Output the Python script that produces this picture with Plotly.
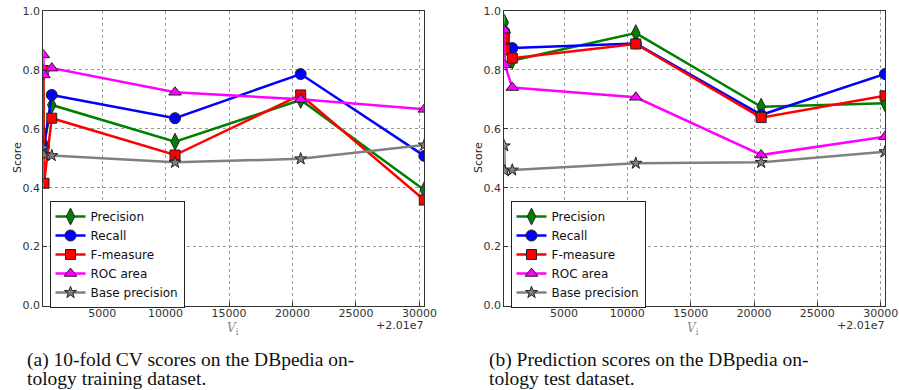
import plotly.graph_objects as go

# ---- data (x relative to offset 2.01e7) ----
x_offset_label = "+2.01e7"
x_train = [364, 420, 1030, 10744, 20644, 30384]
x_test = [285, 330, 917, 10666, 20564, 30340]

series_names = ["Precision", "Recall", "F-measure", "ROC area", "Base precision"]

train_precision = [0.79, 0.55, 0.681, 0.556, 0.698, 0.392]
train_recall = [0.52, 0.539, 0.715, 0.636, 0.786, 0.508]
train_fmeasure = [0.798, 0.415, 0.636, 0.511, 0.715, 0.358]
train_roc = [0.851, 0.783, 0.806, 0.724, 0.700, 0.666]
train_base = [0.535, 0.512, 0.509, 0.486, 0.498, 0.545]

test_precision = [0.961, 0.87, 0.832, 0.925, 0.675, 0.687]
test_recall = [0.930, 0.88, 0.874, 0.89, 0.647, 0.786]
test_fmeasure = [0.908, 0.87, 0.840, 0.888, 0.638, 0.712]
test_roc = [0.935, 0.817, 0.740, 0.707, 0.511, 0.573]
test_base = [0.542, 0.457, 0.460, 0.483, 0.486, 0.522]

x_ticks = [5000, 10000, 15000, 20000, 25000, 30000]
x_ticktext = ["5000", "10000", "15000", "20000", "25000", "30000"]
y_ticks = [0.0, 0.2, 0.4, 0.6, 0.8, 1.0]

captions = [
    ["(a) 10-fold CV scores on the DBpedia on-", "tology training dataset."],
    ["(b) Prediction scores on the DBpedia on-", "tology test dataset."],
]

styles = [
    dict(color="#008000", symbol="diamond-tall", size=12),
    dict(color="#0000ff", symbol="circle", size=11),
    dict(color="#ff0000", symbol="square", size=10),
    dict(color="#ff00ff", symbol="triangle-up", size=11),
    dict(color="#808080", symbol="star", size=9),
]

fig = go.Figure()

panels = [
    (x_train, [train_precision, train_recall, train_fmeasure, train_roc, train_base], "x", "y", "legend"),
    (x_test, [test_precision, test_recall, test_fmeasure, test_roc, test_base], "x2", "y2", "legend2"),
]

for xs, ys_list, xa, ya, lg in panels:
    for name, ys, st in zip(series_names, ys_list, styles):
        fig.add_trace(go.Scatter(
            x=xs, y=ys, name=name, mode="lines+markers",
            line=dict(color=st["color"], width=2.5),
            marker=dict(symbol=st["symbol"], size=st["size"], color=st["color"],
                        line=dict(color="#222222", width=1)),
            xaxis=xa, yaxis=ya, legend=lg,
        ))

W, H = 899, 390
def px(v):
    return v / W
def py(v):
    return (H - v) / H

dom_y = [py(305.5), py(11)]
axis_common = dict(
    showline=True, linecolor="#333333", linewidth=1, mirror=True,
    ticks="inside", ticklen=4, tickcolor="#333333",
    showgrid=True, gridcolor="#9a9a9a", griddash="dot", gridwidth=1,
    zeroline=False, automargin=False,
    tickfont=dict(family="DejaVu Sans", size=11, color="#333333"),
)

legend_common = dict(xanchor="left", yanchor="top",
                     bordercolor="#222222", borderwidth=1, bgcolor="white",
                     font=dict(family="DejaVu Sans", size=12, color="#111111"),
                     tracegroupgap=0, itemwidth=30)

fig.update_layout(
    width=W, height=H, margin=dict(l=0, r=0, t=0, b=0, autoexpand=False),
    paper_bgcolor="white", plot_bgcolor="white",
    xaxis=dict(domain=[px(43.3), px(424.3)], range=[min(x_train), max(x_train)],
               tickvals=x_ticks, ticktext=x_ticktext, anchor="y", ticklabelstandoff=-3,
               **axis_common),
    yaxis=dict(domain=dom_y, range=[0, 1], tickvals=y_ticks, tickformat=".1f", anchor="x", **axis_common),
    xaxis2=dict(domain=[px(504.3), px(885)], range=[min(x_test), max(x_test)],
                tickvals=x_ticks, ticktext=x_ticktext, anchor="y2", ticklabelstandoff=-3,
                **axis_common),
    yaxis2=dict(domain=dom_y, range=[0, 1], tickvals=y_ticks, tickformat=".1f", anchor="x2", **axis_common),
    legend=dict(x=px(49.5), y=py(201), **legend_common),
    legend2=dict(x=px(510.5), y=py(201), **legend_common),
    showlegend=True,
)

annots = []
for xl, xr, cx, ylab_x in [(43.3, 424.3, 233, 17), (504.3, 885, 693, 478)]:
    annots.append(dict(text="Score", x=px(ylab_x), y=py(158), xref="paper", yref="paper",
                       xanchor="center", yanchor="middle",
                       textangle=-90, showarrow=False,
                       font=dict(family="DejaVu Sans", size=11, color="#222222")))
    annots.append(dict(text="<i>V</i><sub>i</sub>", x=px(cx), y=py(329), xref="paper", yref="paper",
                       xanchor="center", yanchor="middle",
                       showarrow=False, font=dict(family="DejaVu Serif", size=12, color="#888888")))
    annots.append(dict(text=x_offset_label, x=px(xr + 1), y=py(325), xref="paper", yref="paper",
                       xanchor="right", yanchor="middle", showarrow=False,
                       font=dict(family="DejaVu Sans", size=11, color="#333333")))
for lines, cx in zip(captions, [25, 487]):
    for line, cy in zip(lines, [360, 378.5]):
        annots.append(dict(text=line, x=px(cx), y=py(cy), xref="paper", yref="paper",
                           xanchor="left", yanchor="middle", align="left", showarrow=False,
                           font=dict(family="Liberation Serif", size=19.5, color="#111111")))
fig.update_layout(annotations=annots)

fig.write_html("out.html", config={"displayModeBar": False},
               post_script="document.body.style.margin='0';document.body.style.overflow='hidden';")
